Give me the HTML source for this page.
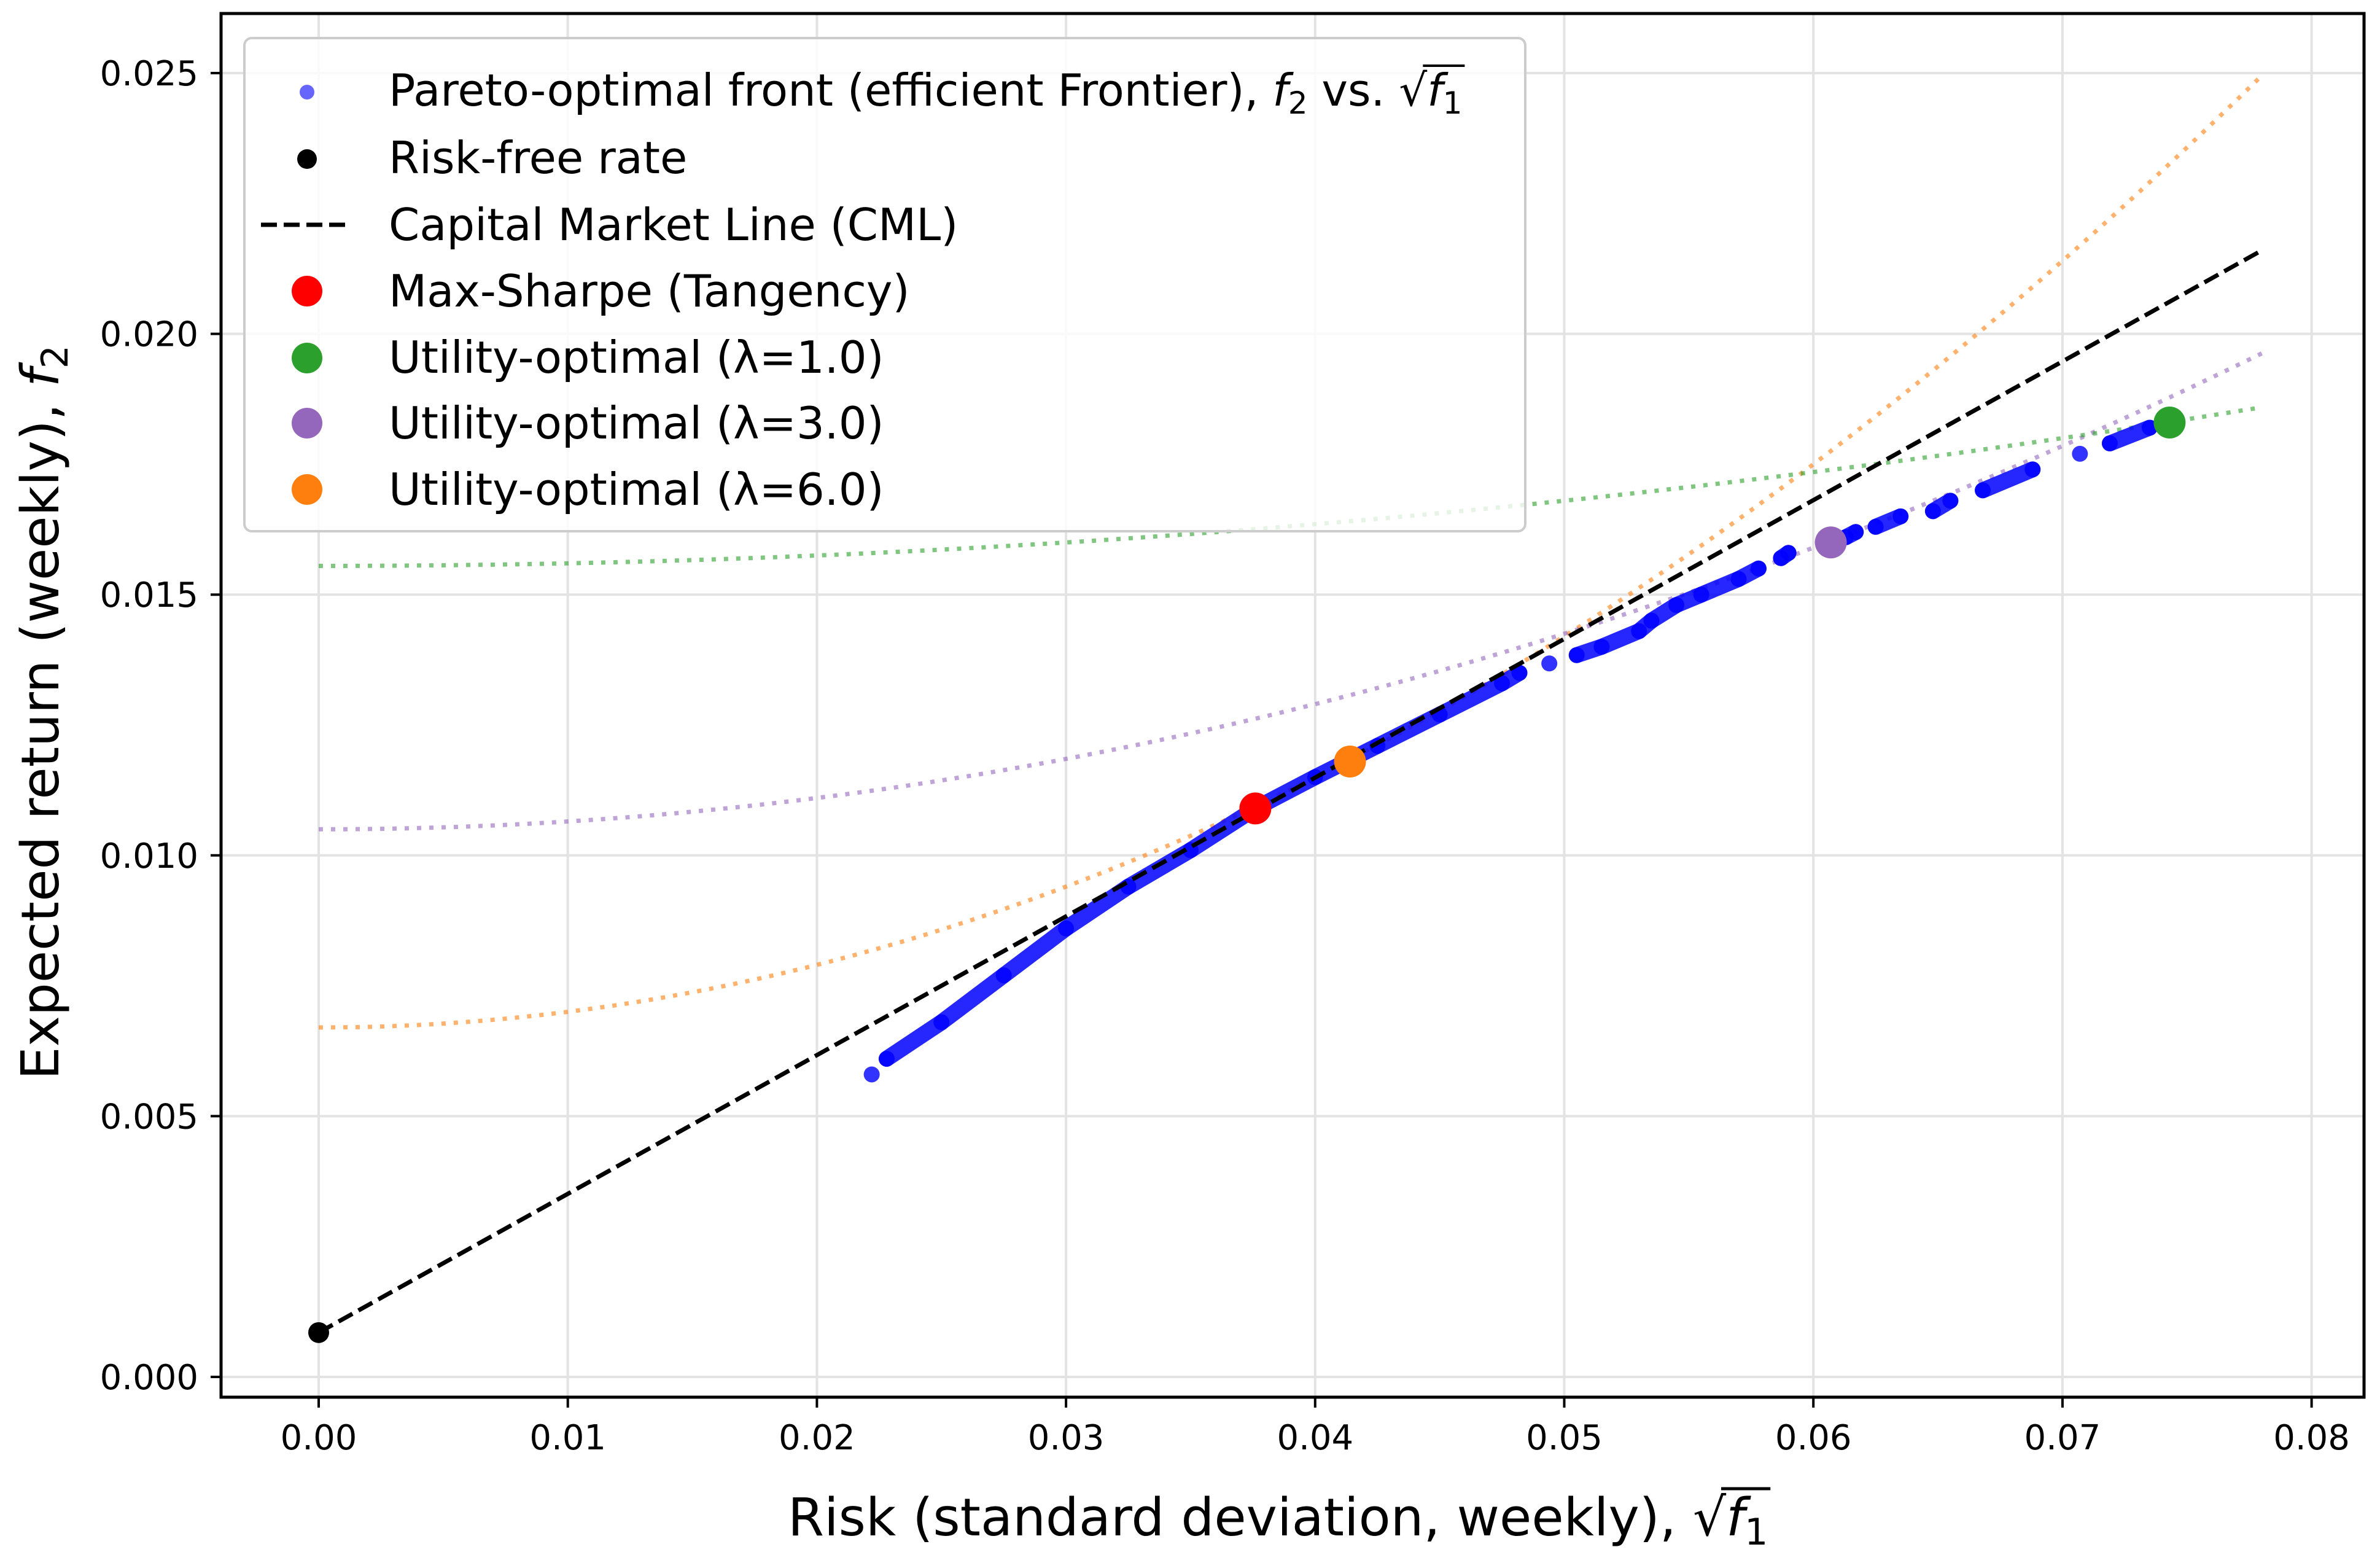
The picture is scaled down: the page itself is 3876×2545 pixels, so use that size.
<!DOCTYPE html>
<html><head><meta charset="utf-8"><style>
body{margin:0;background:#fff}
text{font-family:"DejaVu Sans","Liberation Sans",sans-serif;fill:#000}
</style></head><body>
<svg id="chart" width="3876" height="2540" viewBox="0 0 3876 2540" xmlns="http://www.w3.org/2000/svg">
<rect width="3876" height="2540" fill="#fff"/>
<g id="grid"></g>
<g id="curves"></g>
<g id="frontier"></g>
<g id="marks"></g>
<rect x="360" y="22" width="3490" height="2253" fill="none" stroke="#000" stroke-width="5"/>
<g id="ticks"></g>
<text id="xtitle" x="1283" y="2500" font-size="85">Risk (standard deviation, weekly), √<tspan font-style="italic">f</tspan><tspan font-size="60" dy="15">1</tspan></text>
<line id="xbar" x1="2838" y1="2418" x2="2924" y2="2418" stroke="#000" stroke-width="5"/>
<text transform="translate(95,1160) rotate(-90)" text-anchor="middle" font-size="85">Expected return (weekly), <tspan font-style="italic">f</tspan><tspan font-size="60" dy="15">2</tspan></text>
<g id="legend">
<rect x="398" y="62" width="2086" height="803" rx="12" fill="#fff" fill-opacity="0.8" stroke="#ccc" stroke-width="4"/>
<circle cx="500" cy="150" r="12" fill="#0000ff" fill-opacity="0.6"/>
<text id="legtitle" x="633" y="172" font-size="72">Pareto-optimal front (efficient Frontier), <tspan font-style="italic">f</tspan><tspan font-size="50" dy="13">2</tspan><tspan dy="-13"> vs. √</tspan><tspan font-style="italic">f</tspan><tspan font-size="50" dy="13">1</tspan></text>
<line id="legbar" x1="2360" y1="96" x2="2450" y2="96" stroke="#000" stroke-width="4"/>
<circle cx="500" cy="259" r="16" fill="#000"/>
<text x="633" y="282" font-size="72">Risk-free rate</text>
<line x1="425" y1="366" x2="573" y2="366" stroke="#000" stroke-width="7" stroke-dasharray="26,11"/>
<text x="633" y="391" font-size="72">Capital Market Line (CML)</text>
<circle cx="500" cy="474" r="25" fill="#ff0000"/>
<text x="633" y="499" font-size="72">Max-Sharpe (Tangency)</text>
<circle cx="500" cy="583" r="25" fill="#2ca02c"/>
<text x="633" y="607" font-size="72">Utility-optimal (λ=1.0)</text>
<circle cx="500" cy="689" r="25" fill="#9467bd"/>
<text x="633" y="714" font-size="72">Utility-optimal (λ=3.0)</text>
<circle cx="500" cy="797" r="25" fill="#ff7f0e"/>
<text x="633" y="822" font-size="72">Utility-optimal (λ=6.0)</text>
</g>
</svg>
<script>
const xTicks=[0,0.01,0.02,0.03,0.04,0.05,0.06,0.07,0.08];
const xTickLabels=["0.00","0.01","0.02","0.03","0.04","0.05","0.06","0.07","0.08"];
const yTicks=[0,0.005,0.01,0.015,0.02,0.025];
const yTickLabels=["0.000","0.005","0.010","0.015","0.020","0.025"];
const frontierX=[0.0222,0.0228,0.025,0.0275,0.03,0.0325,0.035,0.0376,0.04,0.0425,0.045,0.0475,0.0482,0.0494,0.0505,0.0515,0.053,0.0535,0.0545,0.0555,0.057,0.0578,0.0587,0.059,0.0613,0.0617,0.0625,0.0635,0.0648,0.0655,0.0668,0.0688,0.0707,0.0719,0.0735];
const frontierY=[0.0058,0.0061,0.0068,0.0077,0.0086,0.0094,0.0101,0.0109,0.0115,0.0121,0.0127,0.0133,0.0135,0.01368,0.01384,0.0140,0.0143,0.0145,0.0148,0.0150,0.0153,0.0155,0.0157,0.0158,0.0161,0.0162,0.0163,0.0165,0.0166,0.0168,0.0170,0.0174,0.0177,0.0179,0.0182];
const frontierSeg=[0,1,1,1,1,1,1,1,1,1,1,1,1,2,3,3,3,3,3,3,3,3,4,4,5,5,6,6,7,7,8,8,9,10,10];
const riskFree=[0,0.00085];
const cmlEnd=[0.078,0.0216];
const specialNames=["tangency","lambda6","lambda3","lambda1"];
const specialX=[0.0376,0.0414,0.0607,0.0743];
const specialY=[0.0109,0.0118,0.0160,0.0183];
const specialColors=["#ff0000","#ff7f0e","#9467bd","#2ca02c"];
const curveLambdas=[6,3,1];
const curveIntercepts=[0.0067,0.0105,0.01555];
const curveColors=["#ff7f0e","#9467bd","#2ca02c"];
const curveXMax=0.078;

const NS="http://www.w3.org/2000/svg";
const X=v=>519+v*40570;
const Y=v=>2242-v*84920;
function mk(tag,attrs,parent){const e=document.createElementNS(NS,tag);for(const k in attrs)e.setAttribute(k,attrs[k]);parent.appendChild(e);return e;}
const grid=document.getElementById('grid'),ticks=document.getElementById('ticks');
xTicks.forEach((t,i)=>{
 let g=mk('line',{x1:X(t),x2:X(t),y1:22,y2:2275,stroke:'#e3e3e3','stroke-width':4},grid);
 
 
 let tk=mk('line',{x1:X(t),x2:X(t),y1:2275,y2:2292,stroke:'#000','stroke-width':4},ticks);
 
 
 let tx=mk('text',{x:X(t),y:2360,'text-anchor':'middle','font-size':56},ticks);
 tx.textContent=xTickLabels[i];
 
 
});
yTicks.forEach((t,i)=>{
 let g=mk('line',{x1:360,x2:3850,y1:Y(t),y2:Y(t),stroke:'#e3e3e3','stroke-width':4},grid);
 
 
 let tk=mk('line',{x1:343,x2:360,y1:Y(t),y2:Y(t),stroke:'#000','stroke-width':4},ticks);
 
 
 let tx=mk('text',{x:323,y:Y(t)+20,'text-anchor':'end','font-size':56},ticks);
 tx.textContent=yTickLabels[i];
 
 
});
const curves=document.getElementById('curves');
curveLambdas.forEach((l,i)=>{
 let d='';
 for(let k=0;k<=80;k++){const x=curveXMax*k/80;const y=curveIntercepts[i]+l/2*x*x;d+=(k?'L':'M')+X(x).toFixed(1)+','+Y(y).toFixed(1);}
 let p=mk('path',{d:d,fill:'none',stroke:curveColors[i],'stroke-opacity':0.6,'stroke-width':7,'stroke-dasharray':'7,13'},curves);
 
 
});
const fr=document.getElementById('frontier');
let segs={};
frontierX.forEach((x,i)=>{(segs[frontierSeg[i]]=segs[frontierSeg[i]]||[]).push([X(x),Y(frontierY[i])]);});
Object.values(segs).forEach(pts=>{
 if(pts.length>1){
  let p=mk('path',{d:'M'+pts.map(q=>q[0]+','+q[1]).join('L'),fill:'none',stroke:'#0000ff','stroke-opacity':0.85,'stroke-width':26,'stroke-linecap':'round','stroke-linejoin':'round'},fr);
  
  
 }
});
frontierX.forEach((x,i)=>{
 let c=mk('circle',{cx:X(x),cy:Y(frontierY[i]),r:13,fill:'#0000ff','fill-opacity':0.8},fr);
 
 
});
const marks=document.getElementById('marks');
let cml=mk('line',{x1:X(riskFree[0]),y1:Y(riskFree[1]),x2:X(cmlEnd[0]),y2:Y(cmlEnd[1]),stroke:'#000','stroke-width':7,'stroke-dasharray':'26,11'},marks);


let rf=mk('circle',{cx:X(riskFree[0]),cy:Y(riskFree[1]),r:17,fill:'#000'},marks);


specialX.forEach((x,i)=>{
 let c=mk('circle',{cx:X(x),cy:Y(specialY[i]),r:26,fill:specialColors[i]},marks);
 
 
});
function placeBar(textId,barId,fs){
 try{
  const t=document.getElementById(textId),b=document.getElementById(barId);
  const s=t.textContent;const idx=s.indexOf('√');
  const st=t.getExtentOfChar(idx);const en=t.getExtentOfChar(s.length-1);
  const y=t.getExtentOfChar(0).y+2;
  b.setAttribute('x1',st.x+st.width*0.85);b.setAttribute('x2',en.x+en.width+4);
  b.setAttribute('y1',y);b.setAttribute('y2',y);
 }catch(e){}
}
placeBar('xtitle','xbar');
placeBar('legtitle','legbar');
</script>
</body></html>
